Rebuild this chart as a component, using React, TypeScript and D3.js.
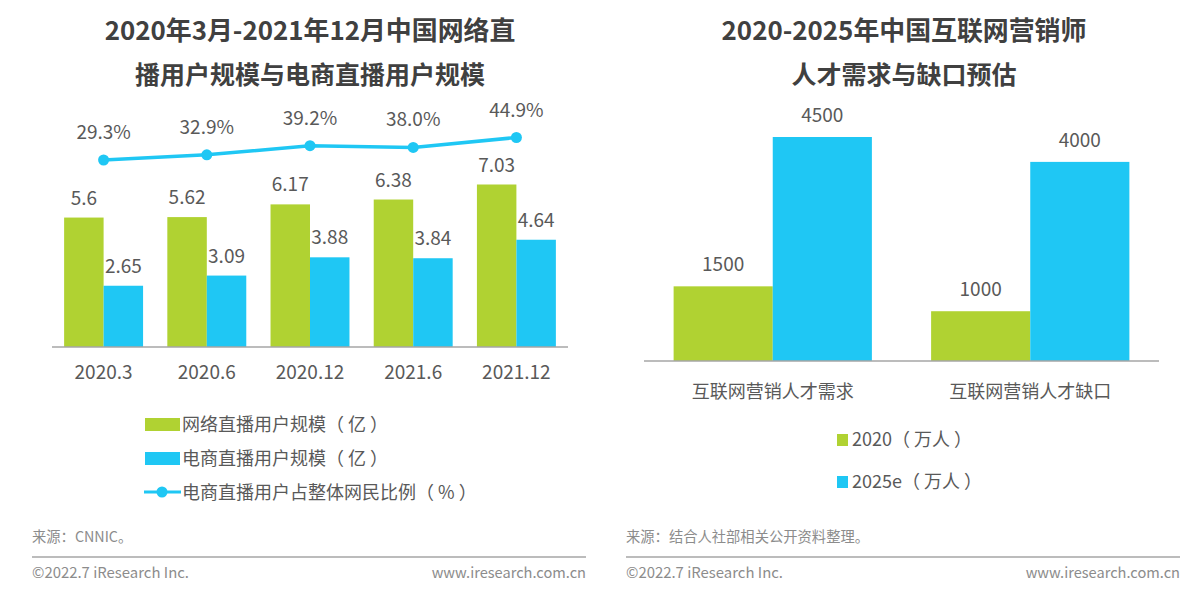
import * as d3 from "d3";

const FONT = '"Noto Sans CJK SC", "Noto Sans", sans-serif';
const GREEN = "#b0d232";
const BLUE = "#1fc7f4";
const TEXT = "#595959";
const NUM_SIZE = 19;

// left chart
const periods = ["2020.3", "2020.6", "2020.12", "2021.6", "2021.12"];
const liveUsers = [5.6, 5.62, 6.17, 6.38, 7.03];
const ecomUsers = [2.65, 3.09, 3.88, 3.84, 4.64];
const ecomShare = [29.3, 32.9, 39.2, 38.0, 44.9];
const leftTitle = ["2020年3月-2021年12月中国网络直", "播用户规模与电商直播用户规模"];
const leftLegend = ["网络直播用户规模（ 亿 ）", "电商直播用户规模（ 亿 ）", "电商直播用户占整体网民比例（ % ）"];

// right chart
const talentGroups = ["互联网营销人才需求", "互联网营销人才缺口"];
const talent2020 = [1500, 1000];
const talent2025 = [4500, 4000];
const rightTitle = ["2020-2025年中国互联网营销师", "人才需求与缺口预估"];
const rightLegend = ["2020（ 万人 ）", "2025e（ 万人 ）"];

function Footer({ x0, x1, source }: { x0: number; x1: number; source: string }) {
  return (
    <g fontFamily={FONT}>
      <text x={x0} y={542} fontSize={14.3} fill="#8c8c8c">{source}</text>
      <line x1={x0} x2={x1} y1={557} y2={557} stroke="#a6a6a6" strokeWidth={1.5} />
      <text x={x0} y={578} fontSize={14.9} fill="#8c8c8c">©2022.7 iResearch Inc.</text>
      <text x={x1} y={578} fontSize={14.6} fill="#8c8c8c" textAnchor="end">www.iresearch.com.cn</text>
    </g>
  );
}

function Title({ lines, cx }: { lines: string[]; cx: number }) {
  return (
    <g fontFamily={FONT} fontWeight={700} fill="#404040" textAnchor="middle">
      <text x={cx} y={40} fontSize={25.9}>{lines[0]}</text>
      <text x={cx} y={84} fontSize={25}>{lines[1]}</text>
    </g>
  );
}

function LeftChart() {
  const baseline = 347;
  const x = d3.scaleBand().domain(periods).range([52, 568]).paddingInner(0.235).paddingOuter(0.1175);
  const bw = x.bandwidth() / 2;
  const y = d3.scaleLinear().domain([0, 7.03]).range([baseline, 184.5]);
  const yLine = d3.scaleLinear().domain([29.3, 44.9]).range([160, 137.5]);
  const cx = (p: string) => x(p)! + bw;
  const line = d3.line<number>().x((_, i) => cx(periods[i])).y((d) => yLine(d));

  return (
    <g fontFamily={FONT}>
      <Title lines={leftTitle} cx={310} />
      {periods.map((p, i) => (
        <g key={p}>
          <rect x={x(p)} y={y(liveUsers[i])} width={bw} height={baseline - y(liveUsers[i])} fill={GREEN} />
          <rect x={cx(p)} y={y(ecomUsers[i])} width={bw} height={baseline - y(ecomUsers[i])} fill={BLUE} />
          <text x={cx(p) - bw / 2} y={y(liveUsers[i]) - 13} fontSize={NUM_SIZE} fill={TEXT} textAnchor="middle">{liveUsers[i]}</text>
          <text x={cx(p) + bw / 2} y={y(ecomUsers[i]) - 13} fontSize={NUM_SIZE} fill={TEXT} textAnchor="middle">{ecomUsers[i].toFixed(2)}</text>
          <text x={cx(p)} y={yLine(ecomShare[i]) - 21} fontSize={NUM_SIZE} fill={TEXT} textAnchor="middle">{ecomShare[i].toFixed(1)}%</text>
          <text x={cx(p)} y={379} fontSize={NUM_SIZE} fill={TEXT} textAnchor="middle">{p}</text>
        </g>
      ))}
      <line x1={52} x2={568} y1={baseline} y2={baseline} stroke="#a6a6a6" strokeWidth={1.5} />
      <path d={line(ecomShare)!} fill="none" stroke={BLUE} strokeWidth={3.5} />
      {ecomShare.map((d, i) => (
        <circle key={i} cx={cx(periods[i])} cy={yLine(d)} r={5.5} fill={BLUE} />
      ))}
      {/* legend */}
      <rect x={145} y={418} width={35} height={13} fill={GREEN} />
      <rect x={145} y={452} width={35} height={13} fill={BLUE} />
      <line x1={144} x2={181} y1={492} y2={492} stroke={BLUE} strokeWidth={3} />
      <circle cx={162} cy={492} r={5.5} fill={BLUE} />
      {leftLegend.map((t, i) => (
        <text key={t} x={182} y={431 + i * 34} fontSize={18} fill={TEXT}>{t}</text>
      ))}
      <Footer x0={32} x1={586} source="来源：CNNIC。" />
    </g>
  );
}

function RightChart() {
  const baseline = 361;
  const x = d3.scaleBand().domain(talentGroups).range([644, 1159]).paddingInner(0.23).paddingOuter(0.115);
  const bw = x.bandwidth() / 2;
  const y = d3.scaleLinear().domain([0, 4500]).range([baseline, 137]);
  const cx = (g: string) => x(g)! + bw;

  return (
    <g fontFamily={FONT}>
      <Title lines={rightTitle} cx={904} />
      {talentGroups.map((g, i) => (
        <g key={g}>
          <rect x={x(g)} y={y(talent2020[i])} width={bw} height={baseline - y(talent2020[i])} fill={GREEN} />
          <rect x={cx(g)} y={y(talent2025[i])} width={bw} height={baseline - y(talent2025[i])} fill={BLUE} />
          <text x={cx(g) - bw / 2} y={y(talent2020[i]) - 15} fontSize={NUM_SIZE} fill={TEXT} textAnchor="middle">{talent2020[i]}</text>
          <text x={cx(g) + bw / 2} y={y(talent2025[i]) - 15} fontSize={NUM_SIZE} fill={TEXT} textAnchor="middle">{talent2025[i]}</text>
          <text x={cx(g)} y={398} fontSize={18} fill={TEXT} textAnchor="middle">{g}</text>
        </g>
      ))}
      <line x1={644} x2={1159} y1={baseline} y2={baseline} stroke="#a6a6a6" strokeWidth={1.5} />
      {/* legend */}
      <rect x={837} y={434} width={11} height={12} fill={GREEN} />
      <rect x={837} y={476} width={11} height={12} fill={BLUE} />
      {rightLegend.map((t, i) => (
        <text key={t} x={852} y={446 + i * 42} fontSize={18} fill={TEXT}>{t}</text>
      ))}
      <Footer x0={626} x1={1180} source="来源：结合人社部相关公开资料整理。" />
    </g>
  );
}

export default function App() {
  return (
    <svg
      width={1200}
      height={594}
      viewBox="0 0 1200 594"
      style={{ position: "absolute", left: 0, top: 0, background: "#fff" }}
    >
      <LeftChart />
      <RightChart />
    </svg>
  );
}
